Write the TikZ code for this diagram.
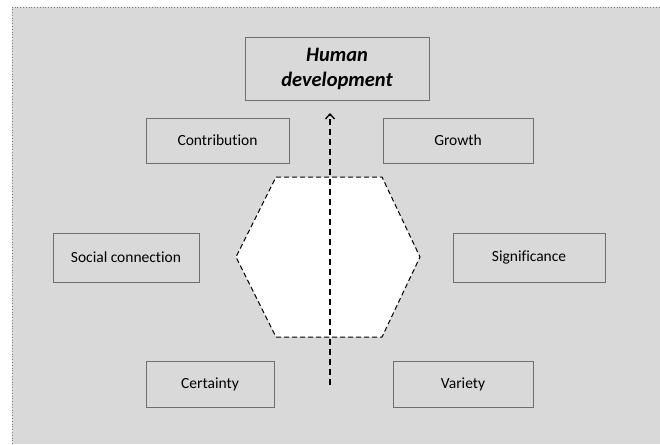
\documentclass[tikz,border=0pt]{standalone}
\usepackage{fontspec}
\setmainfont{Carlito}[Ligatures=NoCommon]
\usepackage{tikz}
\usetikzlibrary{arrows.meta}
\definecolor{panelgray}{HTML}{D9D9D9}
\definecolor{boxline}{HTML}{6E6E6E}
\definecolor{frameline}{HTML}{7F7F7F}
\tikzset{
  needbox/.style={draw=boxline, line width=0.9pt, rectangle, align=center,
    font=\fontsize{15.5}{18}\selectfont, inner sep=0pt},
  goalbox/.style={needbox, font=\fontsize{20.5}{25}\selectfont\bfseries\itshape},
}
\begin{document}
\begin{tikzpicture}[x=1pt, y=-1pt]
  \useasboundingbox (0,0) rectangle (660,444);
  % background panel
  \fill[panelgray] (12,7) rectangle (660,444);
  \draw[frameline, dotted, line width=0.8pt] (12,444) -- (12,7) -- (660,7);

  % goal
  \node[goalbox, minimum width=184pt, minimum height=63pt] (hd) at (337,68.5)
    {Human\\development};%

  % needs
  \node[needbox, minimum width=143pt, minimum height=45pt] (contrib) at (217.5,140.5) {Contribution};%
  \node[needbox, minimum width=150pt, minimum height=45pt] (growth) at (458,140.5) {Growth};%
  \node[needbox, minimum width=146pt, minimum height=49pt] (social) at (126,257.5) {Social connection};%
  \node[needbox, minimum width=152pt, minimum height=49pt] (signif) at (529,257.5) {Significance};%
  \node[needbox, minimum width=128pt, minimum height=46pt] (certain) at (210,384) {Certainty};%
  \node[needbox, minimum width=140pt, minimum height=46pt] (variety) at (463,384) {Variety};%

  % hexagon
  \filldraw[fill=white, draw=black, line width=1pt, dash pattern=on 5pt off 3pt]
    (276,177) -- (382,177) -- (420,257) -- (382,337) -- (276,337) -- (236,257) -- cycle;

  % arrow up to the goal
  \coordinate (tail) at (330,385);
  \coordinate (head) at (330,113);
  \draw[line width=1.5pt, dash pattern=on 6pt off 4pt,
    -{Straight Barb[length=5pt, width=9pt, line width=1.3pt]}] (tail) -- (head);
\end{tikzpicture}
\end{document}
